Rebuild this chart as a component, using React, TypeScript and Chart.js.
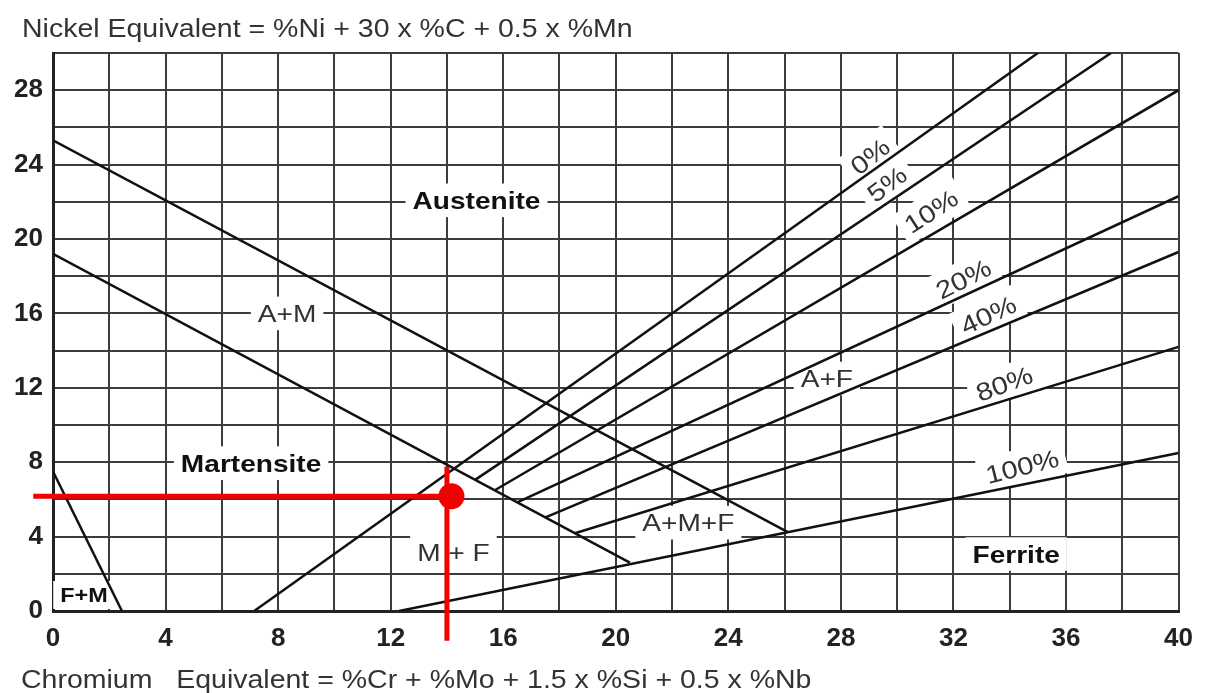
import { useEffect, useRef } from 'react';
import { Chart, registerables } from 'chart.js';

Chart.register(...registerables);

// ---- axes ----
const X_MIN = 0;
const X_MAX = 40;
const Y_MIN = 0;
const Y_MAX = 30;
const GRID_STEP = 2;
const xTickLabels = [0, 4, 8, 12, 16, 20, 24, 28, 32, 36, 40];
const yTickLabels = [0, 4, 8, 12, 16, 20, 24, 28];

const yTitle = 'Nickel Equivalent = %Ni + 30 x %C + 0.5 x %Mn';
const xTitle = 'Chromium   Equivalent = %Cr + %Mo + 1.5 x %Si + 0.5 x %Nb';

// ---- phase boundary lines (Cr eq, Ni eq) ----
const fmBoundary = [{ x: 0, y: 7.5 }, { x: 2.45, y: 0 }];
const austeniteBoundary = [{ x: 0, y: 25.3 }, { x: 26.1, y: 4.25 }];
const martensiteBoundary = [{ x: 0, y: 19.2 }, { x: 20.5, y: 2.6 }];
const ferrite0 = [{ x: 7.15, y: 0 }, { x: 35.0, y: 30 }];
const ferrite5 = [{ x: 15.0, y: 7.05 }, { x: 37.6, y: 30 }];
const ferrite10 = [{ x: 15.7, y: 6.49 }, { x: 40, y: 28 }];
const ferrite20 = [{ x: 16.5, y: 5.84 }, { x: 40, y: 22.3 }];
const ferrite40 = [{ x: 17.5, y: 5.03 }, { x: 40, y: 19.3 }];
const ferrite80 = [{ x: 18.55, y: 4.18 }, { x: 40, y: 14.2 }];
const ferrite100 = [{ x: 12.3, y: 0 }, { x: 40, y: 8.5 }];

// ---- red marker ----
const markerH = [{ x: -0.7, y: 6.17 }, { x: 14.0, y: 6.17 }];
const markerV = [{ x: 14.0, y: 7.75 }, { x: 14.0, y: -1.6 }];
const markerPoint = [{ x: 14.16, y: 6.17 }];

// ---- region labels ----
const regionNames = ['Austenite', 'A+M', 'Martensite', 'F+M', 'M + F', 'A+M+F', 'A+F', 'Ferrite'];
const regionX = [15.05, 8.32, 7.04, 1.1, 14.23, 22.58, 27.5, 34.23];
const regionY = [22.08, 16.0, 7.95, 0.86, 3.15, 4.75, 12.5, 3.06];
const regionBold = [true, false, true, true, false, false, false, true];

// ---- ferrite percentage labels ----
const ferriteLabels = ['0%', '5%', '10%', '20%', '40%', '80%', '100%'];
const ferriteLabelX = [29.03, 29.63, 31.2, 32.35, 33.24, 33.8, 34.44];
const ferriteLabelY = [24.46, 22.96, 21.5, 17.86, 15.93, 12.23, 7.78];
const ferriteLabelAngle = [-38, -37, -33, -27, -25, -20, -14];

const FONT = '"Liberation Sans", Arial, Helvetica, sans-serif';
const STRETCH = 1.17;
const TITLE_STRETCH = 1.14;

function drawLabel(ctx: CanvasRenderingContext2D, text: string, px: number, py: number, angleDeg: number, size: number, bold: boolean, color: string) {
  ctx.save();
  ctx.translate(px, py);
  ctx.rotate((angleDeg * Math.PI) / 180);
  ctx.font = `${bold ? 'bold ' : ''}${size}px ${FONT}`;
  const w = ctx.measureText(text).width * STRETCH;
  ctx.fillStyle = '#ffffff';
  ctx.fillRect(-w / 2 - 7, -size * 0.7, w + 14, size * 1.4);
  ctx.scale(STRETCH, 1);
  ctx.fillStyle = color;
  ctx.textAlign = 'center';
  ctx.textBaseline = 'alphabetic';
  ctx.fillText(text, 0, size * 0.36);
  ctx.restore();
}

const textPlugin = {
  id: 'schaefflerText',
  beforeDatasetsDraw(chart: any) {
    const { ctx } = chart;
    const xs = chart.scales.x;
    const ys = chart.scales.y;
    regionNames.forEach((t, i) => {
      const size = t === 'F+M' ? 20 : 24;
      drawLabel(ctx, t, xs.getPixelForValue(regionX[i]), ys.getPixelForValue(regionY[i]), 0, size, regionBold[i], regionBold[i] ? '#111' : '#333');
    });
    ferriteLabels.forEach((t, i) => {
      drawLabel(ctx, t, xs.getPixelForValue(ferriteLabelX[i]), ys.getPixelForValue(ferriteLabelY[i]), ferriteLabelAngle[i], 25, false, '#333');
    });
  },
  afterDraw(chart: any) {
    const { ctx } = chart;
    ctx.save();
    ctx.font = `25px ${FONT}`;
    ctx.fillStyle = '#333';
    ctx.textAlign = 'left';
    ctx.textBaseline = 'alphabetic';
    ctx.save();
    ctx.translate(22, 37);
    ctx.scale(TITLE_STRETCH, 1);
    ctx.fillText(yTitle, 0, 0);
    ctx.restore();
    ctx.save();
    ctx.translate(21, 688);
    ctx.scale(TITLE_STRETCH, 1);
    ctx.fillText(xTitle, 0, 0);
    ctx.restore();
    ctx.restore();
  },
};

function lineDs(data: any[], order = 2) {
  return {
    type: 'scatter',
    data,
    showLine: true,
    borderColor: '#111',
    borderWidth: 2.5,
    pointRadius: 0,
    order,
  };
}

export default function App() {
  const ref = useRef<HTMLCanvasElement>(null);
  useEffect(() => {
    const canvas = ref.current;
    if (!canvas) return;
    const chart = new Chart(canvas, {
      type: 'scatter',
      data: {
        datasets: [
          { ...lineDs(markerPoint, 0), showLine: false, pointRadius: 13, pointBackgroundColor: '#f00000', pointBorderColor: '#f00000', pointBorderWidth: 0, clip: false },
          { ...lineDs(markerH, 1), borderColor: '#f00000', borderWidth: 5, clip: false },
          { ...lineDs(markerV, 1), borderColor: '#f00000', borderWidth: 5, clip: false },
          lineDs(fmBoundary),
          lineDs(austeniteBoundary),
          lineDs(martensiteBoundary),
          lineDs(ferrite0),
          lineDs(ferrite5),
          lineDs(ferrite10),
          lineDs(ferrite20),
          lineDs(ferrite40),
          lineDs(ferrite80),
          lineDs(ferrite100),
        ] as any,
      },
      options: {
        animation: false,
        responsive: false,
        devicePixelRatio: 1,
        events: [],
        layout: { padding: { top: 53, right: 22, left: 0, bottom: 0 } },
        plugins: { legend: { display: false }, tooltip: { enabled: false }, title: { display: false } },
        scales: {
          x: {
            type: 'linear',
            min: X_MIN,
            max: X_MAX,
            afterFit: (s: any) => { s.height = 82; },
            grid: { color: '#3c3c3c', lineWidth: 2, drawTicks: false },
            border: { display: true, color: '#222', width: 3 },
            ticks: {
              stepSize: GRID_STEP,
              autoSkip: false,
              maxRotation: 0,
              padding: 12,
              color: '#222',
              font: { family: FONT, size: 26, weight: 'bold' },
              callback: (v: any) => (xTickLabels.includes(Number(v)) ? String(v) : ''),
            },
          },
          y: {
            type: 'linear',
            min: Y_MIN,
            max: Y_MAX,
            afterFit: (s: any) => { s.width = 53; },
            grid: { color: '#3c3c3c', lineWidth: 2, drawTicks: false },
            border: { display: true, color: '#222', width: 3 },
            ticks: {
              stepSize: GRID_STEP,
              autoSkip: false,
              padding: 10,
              color: '#222',
              font: { family: FONT, size: 26, weight: 'bold' },
              callback: (v: any) => (yTickLabels.includes(Number(v)) ? String(v) : ''),
            },
          },
        },
      } as any,
      plugins: [textPlugin],
    });
    return () => chart.destroy();
  }, []);

  return (
    <div style={{ position: 'fixed', left: 0, top: 0, width: 1205, height: 693, background: '#fff' }}>
      <canvas ref={ref} width={1205} height={693} style={{ display: 'block', width: 1205, height: 693 }} />
    </div>
  );
}
